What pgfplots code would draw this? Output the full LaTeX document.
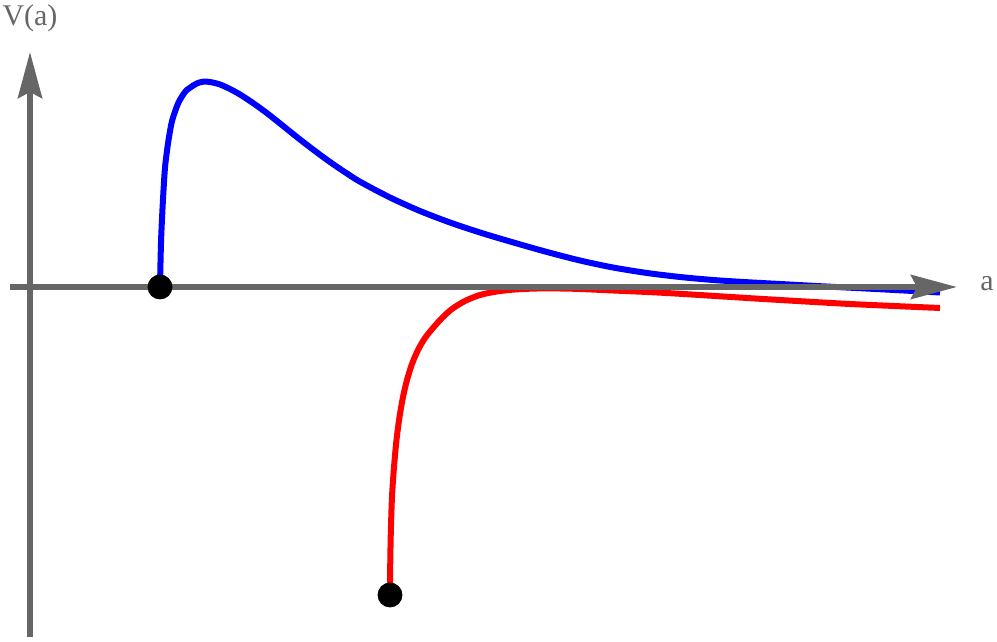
\documentclass[border=0pt]{standalone}
\usepackage{fontspec}
\setmainfont{Liberation Serif}
\usepackage{pgfplots}
\pgfplotsset{compat=1.18}
\usetikzlibrary{arrows.meta}
\definecolor{axgray}{RGB}{102,102,102}
\definecolor{pblue}{RGB}{0,0,255}
\definecolor{pred}{RGB}{255,0,0}

\begin{document}
\begin{tikzpicture}
\begin{axis}[
    scale only axis, width=498.5pt, height=321pt,
    xmin=0, xmax=997, ymin=-355, ymax=287,
    hide axis, clip=false,
]
% keep the full frame in the bounding box
\path (axis cs:0,-355) rectangle (axis cs:997,287);
% upper branch
\addplot[pblue, line width=3pt, smooth, tension=0.5] coordinates {
 (160,0) (160.4,20) (161.2,50) (162.8,84) (164.8,117) (166.7,134) (169,150)
 (172.3,167) (178.3,184) (185,195) (190,199.3) (196.7,203.5) (203,205.3)
 (210,205) (220,202.5) (230,198) (240,192.5) (250,186) (260,179) (270,171.5)
 (285,159.5) (300,147.5) (315,136) (330,125) (345,114.8) (360,105.3)
 (390,89.5) (420,76) (450,64.5) (480,54.5) (510,45.5) (547,35) (580,26.5)
 (613,19.5) (647,14) (680,10) (713,7) (747,4.8) (780,3) (820,0.8)
 (860,-1.2) (900,-3.3) (940,-5.5)
};
% lower branch
\addplot[pred, line width=3pt, smooth, tension=0.5] coordinates {
 (390,-308) (390.2,-280) (390.8,-246) (392,-210) (394,-180) (396.5,-153)
 (399.5,-130) (403,-110) (407,-93) (412,-77) (418,-63) (425,-51) (433,-41)
 (442,-31) (452,-22) (465,-14) (480,-8) (497,-4.5) (515,-2.5) (537,-1.5)
 (560,-1.5) (580,-2) (613,-3.5) (647,-5) (680,-6.8) (747,-11) (780,-13)
 (850,-17) (940,-21)
};
% axes
\draw[axgray, line width=3pt, -{Stealth[length=23pt, width=12pt, inset=3pt]}]
    (axis cs:10,0) -- (axis cs:957,0);
\draw[axgray, line width=3pt, -{Stealth[length=23pt, width=12pt, inset=3pt]}]
    (axis cs:30,-350) -- (axis cs:30,235);
\node[axgray, inner sep=0pt, font=\fontsize{15}{18}\selectfont] at (axis cs:30,269) {V(a)};
\node[axgray, inner sep=0pt, font=\fontsize{15}{18}\selectfont] at (axis cs:987,3) {a};
% end points
\addplot[only marks, mark=*, mark size=6pt, black] coordinates {(160,0) (390,-308)};
\end{axis}
\end{tikzpicture}
\end{document}
